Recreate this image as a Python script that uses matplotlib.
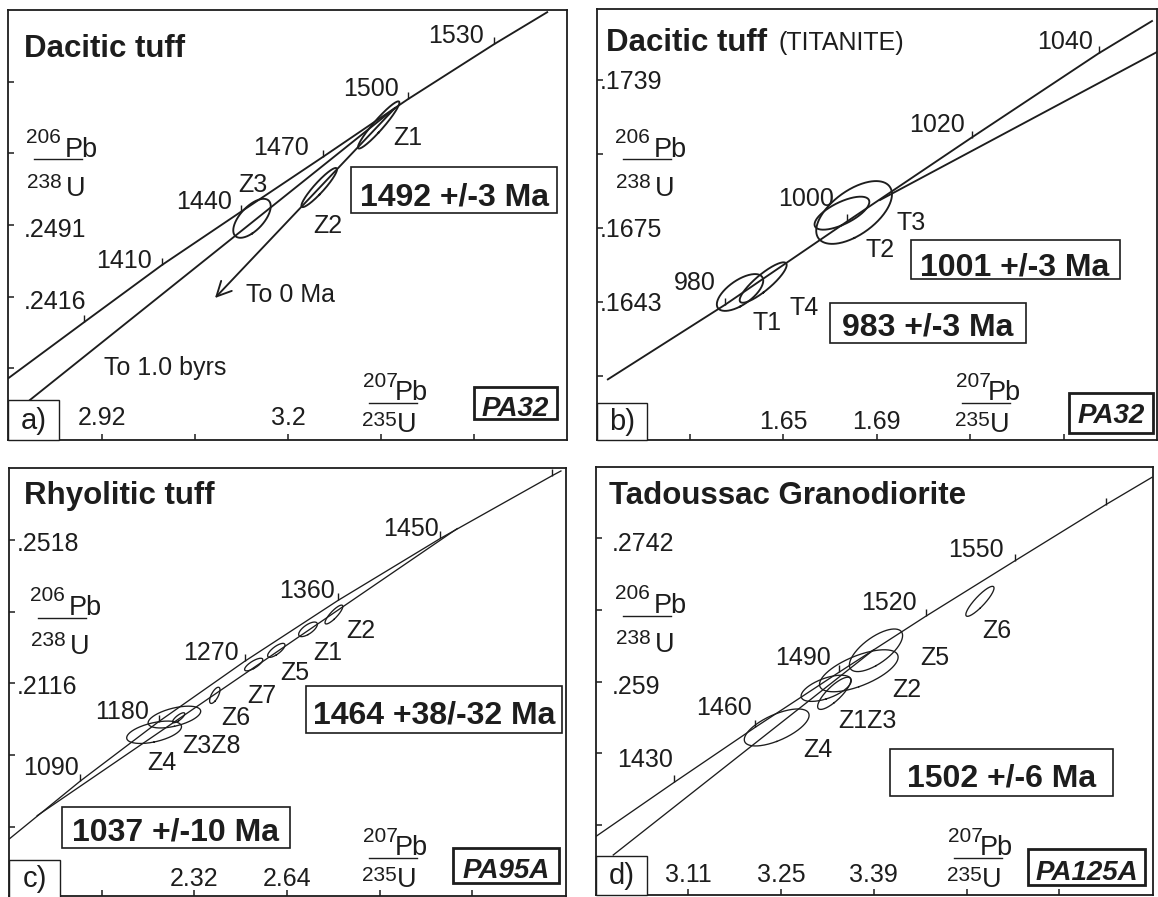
import numpy as np
import matplotlib
matplotlib.use("Agg")
import matplotlib.pyplot as plt
from matplotlib.patches import Rectangle
from matplotlib.lines import Line2D
from matplotlib.transforms import blended_transform_factory as blend
from matplotlib.markers import TICKUP

W, H, DPI = 1158, 897, 100
plt.rcParams['font.family'] = ['Liberation Sans', 'DejaVu Sans']
INK = '#1d1d1d'

# ======================= DATA =======================
# ---- panel a : Dacitic tuff (zircon) ----
a_conc_age = [1350, 1380, 1410, 1440, 1470, 1500, 1530, 1548]
a_conc_x = [2.7785, 2.8935, 3.0102, 3.1293, 3.2531, 3.3802, 3.5107, 3.5914]
a_conc_y = [0.23304, 0.23895, 0.24491, 0.25049, 0.25625, 0.26225, 0.26804, 0.27142]
a_tick_ages = [1380, 1410, 1440, 1470, 1500, 1530]
a_label_ages = [1410, 1440, 1470, 1500, 1530]
a_disc_x = [2.8116, 3.3611]          # chord "To 1.0 byrs"
a_disc_y = [0.23079, 0.26134]
a_arrow_x = [3.3611, 3.0901]         # chord "To 0 Ma"
a_arrow_y = [0.26134, 0.24146]
a_ell_name = ['Z1', 'Z2', 'Z3']
a_ell_x = [3.3365, 3.2470, 3.1458]
a_ell_ex = [0.0312, 0.0268, 0.0282]
a_ell_y = [0.25957, 0.25302, 0.24980]
a_ell_ey = [0.00247, 0.00205, 0.00204]
a_ell_rho = [0.947, 0.928, 0.62]
a_xticks = [2.92, 3.06, 3.20, 3.34, 3.48]
a_xticklabels = ['2.92', '', '3.2', '', '']
a_yticks = [0.2341, 0.2416, 0.2491, 0.2566, 0.2641]
a_yticklabels = ['', '.2416', '.2491', '', '']

# ---- panel b : Dacitic tuff (titanite) ----
b_conc_age = [961, 980, 1000, 1020, 1040, 1049]
b_conc_x = [1.5747, 1.6252, 1.6774, 1.7307, 1.7850, 1.8082]
b_conc_y = [0.16095, 0.16420, 0.16780, 0.17143, 0.17507, 0.17649]
b_tick_ages = [980, 1000, 1020, 1040]
b_label_ages = [980, 1000, 1020, 1040]
b_disc_x = [1.6915, 1.8100]
b_disc_y = [0.16873, 0.17513]
b_ell_name = ['T1', 'T4', 'T2', 'T3']
b_ell_x = [1.6316, 1.6415, 1.6752, 1.6804]
b_ell_ex = [0.00993, 0.01005, 0.01172, 0.01621]
b_ell_y = [0.16473, 0.16516, 0.16816, 0.16819]
b_ell_ey = [0.000796, 0.000874, 0.000714, 0.001358]
b_ell_rho = [0.644, 0.867, 0.681, 0.580]
b_xticks = [1.61, 1.65, 1.69, 1.73, 1.77]
b_xticklabels = ['', '1.65', '1.69', '', '']
b_yticks = [0.1611, 0.1643, 0.1675, 0.1707, 0.1739]
b_yticklabels = ['', '.1643', '.1675', '', '.1739']

# ---- panel c : Rhyolitic tuff ----
c_conc_age = [1000, 1090, 1180, 1270, 1360, 1450, 1540, 1547]
c_conc_x = [1.6774, 1.9255, 2.1968, 2.4932, 2.8168, 3.1704, 3.5567, 3.5886]
c_conc_y = [0.16780, 0.18421, 0.20088, 0.21775, 0.23487, 0.25224, 0.26983, 0.27121]
c_tick_ages = [1090, 1180, 1270, 1360, 1450, 1540]
c_label_ages = [1090, 1180, 1270, 1360, 1450]
c_disc_x = [1.7768, 3.2283]          # 1037 Ma -> 1464 Ma
c_disc_y = [0.17452, 0.25498]
c_ell_name = ['Z2', 'Z1', 'Z5', 'Z7', 'Z6', 'Z8', 'Z3', 'Z4']
c_ell_x = [2.8021, 2.7126, 2.6030, 2.5249, 2.3905, 2.2657, 2.2509, 2.1807]
c_ell_ex = [0.03076, 0.03238, 0.03003, 0.03145, 0.01797, 0.02108, 0.09088, 0.09469]
c_ell_y = [0.23089, 0.22674, 0.22085, 0.21687, 0.20824, 0.20196, 0.20215, 0.19789]
c_ell_ey = [0.002646, 0.002046, 0.001962, 0.001766, 0.002271, 0.001402, 0.003056, 0.003140]
c_ell_rho = [0.855, 0.692, 0.757, 0.768, 0.677, 0.796, 0.531, 0.496]
c_xticks = [2.00, 2.32, 2.64, 2.96, 3.28]
c_xticklabels = ['', '2.32', '2.64', '', '']
c_yticks = [0.1714, 0.1915, 0.2116, 0.2317, 0.2518]
c_yticklabels = ['', '', '.2116', '', '.2518']

# ---- panel d : Tadoussac Granodiorite ----
d_conc_age = [1400, 1430, 1460, 1490, 1520, 1550, 1580, 1595]
d_conc_x = [2.9702, 3.0892, 3.2114, 3.3381, 3.4680, 3.6025, 3.7400, 3.8107]
d_conc_y = [0.24257, 0.24835, 0.25418, 0.26003, 0.26592, 0.27180, 0.27777, 0.28071]
d_tick_ages = [1430, 1460, 1490, 1520, 1550, 1580]
d_label_ages = [1430, 1460, 1490, 1520, 1550]
d_disc_x = [2.9969, 3.3898]
d_disc_y = [0.24063, 0.26238]
d_ell_name = ['Z5', 'Z2', 'Z1', 'Z3', 'Z4', 'Z6']
d_ell_x = [3.3933, 3.3674, 3.3182, 3.3303, 3.2435, 3.5501]
d_ell_ex = [0.04013, 0.05929, 0.03787, 0.02504, 0.04888, 0.02127]
d_ell_y = [0.26233, 0.26016, 0.25830, 0.25777, 0.25415, 0.26752]
d_ell_ey = [0.002258, 0.002226, 0.001389, 0.001707, 0.001961, 0.001590]
d_ell_rho = [0.69, 0.648, 0.589, 0.813, 0.655, 0.884]
d_xticks = [3.11, 3.25, 3.39, 3.53, 3.67]
d_xticklabels = ['3.11', '3.25', '3.39', '', '']
d_yticks = [0.2438, 0.2514, 0.2590, 0.2666, 0.2742]
d_yticklabels = ['', '', '.259', '', '.2742']

# ======================= DRAWING =======================
fig = plt.figure(figsize=(W / DPI, H / DPI), dpi=DPI)
fig.patch.set_facecolor('white')
PT = 0.72  # points per pixel

# pixel offsets (dx, dy-up) of each age label from its concordia tick
LABEL_OFF = {
    'a': {1410: (-10, -3), 1440: (-9, 3), 1470: (-14, 2), 1500: (-9, 3), 1530: (-11, 1)},
    'b': {980: (-9, 15), 1000: (-13, 15), 1020: (-7, 6), 1040: (-6, 4)},
    'c': {1090: (-1, 6), 1180: (-10, 3), 1270: (-6, 1.5), 1360: (-3, 2), 1450: (-2, 2)},
    'd': {1430: (-1, 15), 1460: (-4, 12), 1490: (-9, 7), 1520: (-9, 6), 1550: (-11, 4)},
}


def ftext(px, py, s, **kw):
    kw.setdefault('color', INK)
    kw.setdefault('ha', 'left')
    kw.setdefault('va', 'baseline')
    fig.text(px / W, 1 - py / H, s, zorder=7, **kw)


def fbox(x0, y0, x1, y1, lw):
    fig.add_artist(Rectangle((x0 / W, 1 - y1 / H), (x1 - x0) / W, (y1 - y0) / H,
                             transform=fig.transFigure, fc='white', ec=INK,
                             lw=lw, zorder=6))


def fline(x0, x1, y, lw=1.0):
    fig.add_artist(Line2D([x0 / W, x1 / W], [1 - y / H, 1 - y / H],
                          transform=fig.transFigure, color=INK, lw=lw, zorder=7))


def ratio(px, py, s1, e1, s2, e2, tpl):
    (d1, (dx2, dy2), (lx0, lx1, ly), (dx3, dy3), (dx4, dy4)) = tpl
    ftext(px, py + d1, s1, fontsize=15)
    ftext(px + dx2, py + dy2, e1, fontsize=19.5)
    fline(px + lx0, px + lx1, py + ly, lw=1.0)
    ftext(px + dx3, py + dy3, s2, fontsize=15)
    ftext(px + dx4, py + dy4, e2, fontsize=19.5)


TPL_Y = (-14, (39, 0), (8, 56, 2.5), (1, 31), (40, 39))
TPL_X = (-13, (32, 0), (6, 54, 3), (-1, 26), (34, 32))


def ellipse(ax, x, y, ex, ey, rho, lw):
    cov = np.array([[ex * ex, rho * ex * ey], [rho * ex * ey, ey * ey]])
    vals, vecs = np.linalg.eigh(cov)
    t = np.linspace(0, 2 * np.pi, 240)
    pts = vecs @ (np.sqrt(vals)[:, None] * np.vstack([np.cos(t), np.sin(t)]))
    ax.plot(x + pts[0], y + pts[1], color=INK, lw=lw, zorder=3)


def panel(rect, xlim, ylim, conc, ticks_age, label_ages, lab_off, ells, lw,
          xticks, xtl, yticks, ytl, xlab_py, ylab_dx, ylab_dy):
    l, t, r, b = rect
    ax = fig.add_axes([l / W, 1 - b / H, (r - l) / W, (b - t) / H])
    ax.set_xlim(*xlim)
    ax.set_ylim(*ylim)
    for s in ax.spines.values():
        s.set_color(INK)
        s.set_linewidth(1.3)
    ax.set_xticks(xticks)
    ax.set_yticks(yticks)
    ax.tick_params(direction='in', length=4, width=1.1, color=INK,
                   labelbottom=False, labelleft=False)
    ages, cx, cy = conc
    ax.plot(cx, cy, color=INK, lw=lw, zorder=2, solid_capstyle='butt')
    tx = [cx[ages.index(a)] for a in ticks_age]
    ty = [cy[ages.index(a)] for a in ticks_age]
    ax.plot(tx, ty, ls='none', marker=TICKUP, ms=5, mew=1.0, color=INK, zorder=2)
    for a in label_ages:
        i = ages.index(a)
        dx, dy = lab_off[a]
        ax.annotate(str(a), (cx[i], cy[i]), xytext=(dx * PT, dy * PT),
                    textcoords='offset points', ha='right', va='baseline',
                    fontsize=18, color=INK, zorder=4)
    for (ex_x, ex_ex, ex_y, ex_ey, ex_r) in zip(*ells):
        ellipse(ax, ex_x, ex_y, ex_ex, ex_ey, ex_r, lw)
    # tick labels drawn inside the frame
    yfr = (b - xlab_py) / (b - t)
    for v, s in zip(xticks, xtl):
        if s:
            ax.text(v, yfr, s, transform=blend(ax.transData, ax.transAxes),
                    ha='center', va='center', fontsize=18, color=INK)
    for v, s in zip(yticks, ytl):
        if s:
            ax.annotate(s, (0, v), xycoords=blend(ax.transAxes, ax.transData),
                        xytext=(ylab_dx * PT, -ylab_dy * PT), textcoords='offset points',
                        ha='left', va='center', fontsize=18, color=INK)
    return ax


# ---------- panel a ----------
axa = panel((8, 10, 567, 440), (2.7785, 3.62), (0.2266, 0.2716),
            (a_conc_age, a_conc_x, a_conc_y), a_tick_ages, a_label_ages, LABEL_OFF['a'],
            (a_ell_x, a_ell_ex, a_ell_y, a_ell_ey, a_ell_rho), 1.35,
            a_xticks, a_xticklabels, a_yticks, a_yticklabels, 418, 16, 5)
axa.plot(a_disc_x, a_disc_y, color=INK, lw=1.35, zorder=2)
axa.annotate('', xy=(a_arrow_x[1], a_arrow_y[1]), xytext=(a_arrow_x[0], a_arrow_y[0]),
             arrowprops=dict(arrowstyle='->,head_length=0.7,head_width=0.35',
                             color=INK, lw=1.35, shrinkA=0, shrinkB=0,
                             mutation_scale=15), zorder=2)
ftext(24, 57, 'Dacitic tuff', fontsize=22.5, fontweight='bold')
ftext(393, 145, 'Z1', fontsize=18)
ftext(313, 233, 'Z2', fontsize=18)
ftext(238, 192, 'Z3', fontsize=18)
ftext(246, 302, 'To 0 Ma', fontsize=18)
ftext(104, 375, 'To 1.0 byrs', fontsize=18)
fbox(351, 166.7, 557, 213.3, 1.2)
ftext(454, 206, '1492 +/-3 Ma', fontsize=23, fontweight='bold', ha='center')
fbox(474, 387, 557, 419, 2.0)
ftext(515.5, 416, 'PA32', fontsize=20, fontweight='bold', fontstyle='italic', ha='center')
fbox(8, 400, 59, 440, 1.0)
ftext(33.5, 421, 'a)', fontsize=21, ha='center', va='center')
ratio(26, 157, '206', 'Pb', '238', 'U', TPL_Y)
ratio(363, 400, '207', 'Pb', '235', 'U', TPL_X)

# ---------- panel b ----------
axb = panel((597, 9, 1157, 440), (1.5704, 1.8100), (0.15835, 0.17699),
            (b_conc_age, b_conc_x, b_conc_y), b_tick_ages, b_label_ages, LABEL_OFF['b'],
            (b_ell_x, b_ell_ex, b_ell_y, b_ell_ey, b_ell_rho), 1.35,
            b_xticks, b_xticklabels, b_yticks, b_yticklabels, 421.7, 3, 2)
axb.plot(b_disc_x, b_disc_y, color=INK, lw=1.35, zorder=2)
ftext(606, 51, 'Dacitic tuff', fontsize=22.5, fontweight='bold')
ftext(778, 50, '(TITANITE)', fontsize=18)
ftext(752, 330, 'T1', fontsize=18)
ftext(789, 315, 'T4', fontsize=18)
ftext(865, 256.7, 'T2', fontsize=18)
ftext(896.5, 230, 'T3', fontsize=18)
fbox(910.6, 240, 1119.5, 279.3, 1.2)
ftext(1015, 275, '1001 +/-3 Ma', fontsize=23, fontweight='bold', ha='center')
fbox(829.8, 303.3, 1026, 343.3, 1.2)
ftext(928, 336, '983 +/-3 Ma', fontsize=23, fontweight='bold', ha='center')
fbox(1069, 393, 1153, 433, 2.0)
ftext(1111, 423, 'PA32', fontsize=20, fontweight='bold', fontstyle='italic', ha='center')
fbox(597, 403, 646.5, 440, 1.0)
ftext(621.7, 422, 'b)', fontsize=21, ha='center', va='center')
ratio(615, 157, '206', 'Pb', '238', 'U', TPL_Y)
ratio(956, 400, '207', 'Pb', '235', 'U', TPL_X)

# ---------- panel c ----------
axc = panel((9, 468, 566, 896), (1.6793, 3.6041), (0.1520, 0.27196),
            (c_conc_age, c_conc_x, c_conc_y), c_tick_ages, c_label_ages, LABEL_OFF['c'],
            (c_ell_x, c_ell_ex, c_ell_y, c_ell_ey, c_ell_rho), 0.95,
            c_xticks, c_xticklabels, c_yticks, c_yticklabels, 879, 8, 4)
axc.plot(c_disc_x, c_disc_y, color=INK, lw=0.95, zorder=2)
ftext(24, 504, 'Rhyolitic tuff', fontsize=22.5, fontweight='bold')
ftext(346, 638, 'Z2', fontsize=18)
ftext(313, 660, 'Z1', fontsize=18)
ftext(280, 680, 'Z5', fontsize=18)
ftext(247, 703, 'Z7', fontsize=18)
ftext(221, 725, 'Z6', fontsize=18)
ftext(182, 752.7, 'Z3Z8', fontsize=18)
ftext(147, 770, 'Z4', fontsize=18)
fbox(305.6, 686, 562.2, 733.3, 1.2)
ftext(434, 723, '1464 +38/-32 Ma', fontsize=23, fontweight='bold', ha='center')
fbox(62, 807, 290, 848, 1.2)
ftext(176, 840, '1037 +/-10 Ma', fontsize=23, fontweight='bold', ha='center')
fbox(452.6, 848.3, 559.3, 883.3, 2.0)
ftext(506, 878, 'PA95A', fontsize=20, fontweight='bold', fontstyle='italic', ha='center')
fbox(9, 860, 60, 899, 1.0)
ftext(34.5, 879, 'c)', fontsize=21, ha='center', va='center')
ratio(30, 615, '206', 'Pb', '238', 'U', TPL_Y)
ratio(363, 855, '207', 'Pb', '235', 'U', TPL_X)

# ---------- panel d ----------
axd = panel((596, 467, 1153, 895), (2.9709, 3.8112), (0.23639, 0.28176),
            (d_conc_age, d_conc_x, d_conc_y), d_tick_ages, d_label_ages, LABEL_OFF['d'],
            (d_ell_x, d_ell_ex, d_ell_y, d_ell_ey, d_ell_rho), 0.95,
            d_xticks, d_xticklabels, d_yticks, d_yticklabels, 875, 16, 5.5)
axd.plot(d_disc_x, d_disc_y, color=INK, lw=0.95, zorder=2)
ftext(609.5, 504, 'Tadoussac Granodiorite', fontsize=22.5, fontweight='bold')
ftext(982, 638, 'Z6', fontsize=18)
ftext(920, 665, 'Z5', fontsize=18)
ftext(892, 697, 'Z2', fontsize=18)
ftext(838, 728, 'Z1Z3', fontsize=18)
ftext(803, 756.7, 'Z4', fontsize=18)
fbox(889.9, 749.3, 1113.2, 796, 1.2)
ftext(1001.5, 786, '1502 +/-6 Ma', fontsize=23, fontweight='bold', ha='center')
fbox(1028, 849.3, 1145.4, 885, 2.0)
ftext(1086.7, 880, 'PA125A', fontsize=20, fontweight='bold', fontstyle='italic', ha='center')
fbox(596, 856, 647, 895, 1.0)
ftext(621.5, 876, 'd)', fontsize=21, ha='center', va='center')
ratio(615, 613, '206', 'Pb', '238', 'U', TPL_Y)
ratio(948, 855, '207', 'Pb', '235', 'U', TPL_X)

fig.savefig('out.png', dpi=DPI, facecolor='white')
